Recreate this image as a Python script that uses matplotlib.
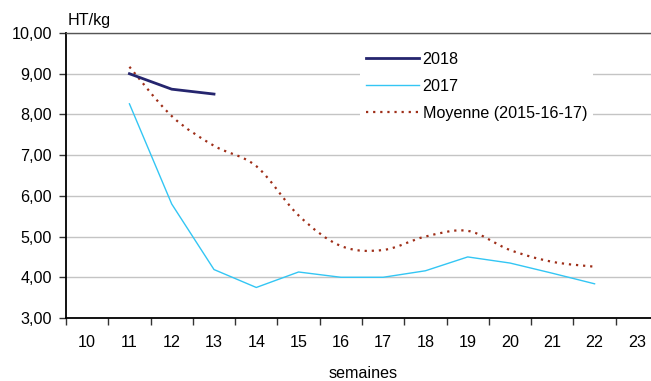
import matplotlib
matplotlib.use("Agg")
import matplotlib.pyplot as plt
from matplotlib.path import Path
from matplotlib.patches import PathPatch
from matplotlib.lines import Line2D
import numpy as np

plt.rcParams['font.family'] = ['Liberation Sans', 'DejaVu Sans']

semaines = [10, 11, 12, 13, 14, 15, 16, 17, 18, 19, 20, 21, 22, 23]
sem_2018 = [11, 12, 13]
val_2018 = [9.00, 8.62, 8.50]
sem_2017 = [11, 12, 13, 14, 15, 16, 17, 18, 19, 20, 21, 22]
val_2017 = [8.26, 5.80, 4.19, 3.75, 4.13, 4.00, 4.00, 4.16, 4.50, 4.35, 4.10, 3.84]
sem_moy = [11, 12, 13, 14, 15, 16, 17, 18, 19, 20, 21, 22]
val_moy = [9.17, 7.96, 7.23, 6.73, 5.52, 4.77, 4.67, 5.00, 5.14, 4.67, 4.38, 4.26]
y_ticks = [3, 4, 5, 6, 7, 8, 9, 10]

C2018 = '#25256E'
C2017 = '#33C6F4'
CMOY = '#9E2E18'
FS = 11.6

fig = plt.figure(figsize=(6.51, 3.81), dpi=100)
ax = fig.add_axes([66/651, 1 - 318/381, (658 - 66)/651, (318 - 33)/381])

pos = {s: i for i, s in enumerate(semaines)}

def smooth_path(xs, ys):
    # Catmull-Rom style smoothed curve, expressed as cubic Bezier segments
    pts = np.column_stack([xs, ys]).astype(float)
    n = len(pts)
    verts = [pts[0]]
    codes = [Path.MOVETO]
    for i in range(n - 1):
        p0 = pts[i - 1] if i > 0 else pts[i]
        p1 = pts[i]
        p2 = pts[i + 1]
        p3 = pts[i + 2] if i + 2 < n else pts[i + 1]
        c1 = p1 + (p2 - p0) / 6.0
        c2 = p2 - (p3 - p1) / 6.0
        verts += [c1, c2, p2]
        codes += [Path.CURVE4] * 3
    return Path(verts, codes)

ax.set_xlim(-0.5, len(semaines) - 0.5)
ax.set_ylim(3, 10)

ax.set_yticks(y_ticks)
ax.set_yticklabels([f"{v:.2f}".replace('.', ',') for v in y_ticks], fontsize=FS)
ax.yaxis.grid(True, color='#C4C4C4', linewidth=1.0)
ax.set_axisbelow(True)

ax.set_xticks(range(len(semaines)))
ax.set_xticklabels([str(s) for s in semaines], fontsize=FS)
ax.set_xticks(np.arange(-0.5, len(semaines), 1.0), minor=True)
ax.tick_params(axis='x', which='major', length=0, pad=12)
ax.tick_params(axis='x', which='minor', length=5, width=1, color='#333333', direction='out')
ax.tick_params(axis='y', length=5, width=1, color='#333333', direction='out', pad=5)

for side in ['left', 'bottom']:
    ax.spines[side].set_color('black')
    ax.spines[side].set_linewidth(1.3)
ax.spines['top'].set_color('#555555')
ax.spines['top'].set_linewidth(1.0)
ax.spines['right'].set_visible(False)

ax.plot([pos[s] for s in sem_2017], val_2017, color=C2017, linewidth=1.0, zorder=3)
moy = PathPatch(smooth_path([pos[s] for s in sem_moy], val_moy), fill=False,
                edgecolor=CMOY, linewidth=1.6, linestyle=(0, (1, 2.2)),
                capstyle='butt', zorder=3)
ax.add_patch(moy)
ax.plot([pos[s] for s in sem_2018], val_2018, color=C2018, linewidth=2.0, zorder=4)

handles = [
    Line2D([], [], color=C2018, linewidth=2.0),
    Line2D([], [], color=C2017, linewidth=1.0),
    Line2D([], [], color=CMOY, linewidth=1.6, linestyle=(0, (1, 2.2))),
]
leg = fig.legend(handles, ['2018', '2017', 'Moyenne (2015-16-17)'],
                 loc='upper left', bbox_to_anchor=(360/651, 1 - 46/381),
                 fontsize=FS, frameon=True, framealpha=1.0, edgecolor='none',
                 fancybox=False, handlelength=3.3, handletextpad=0.23,
                 labelspacing=0.75, borderpad=0.35, borderaxespad=0)

fig.text(68/651, 1 - 20/381, 'HT/kg', fontsize=FS, ha='left', va='center')
fig.text(363/651, 1 - 373/381, 'semaines', fontsize=FS, ha='center', va='center')

fig.savefig('out.png', dpi=100)
